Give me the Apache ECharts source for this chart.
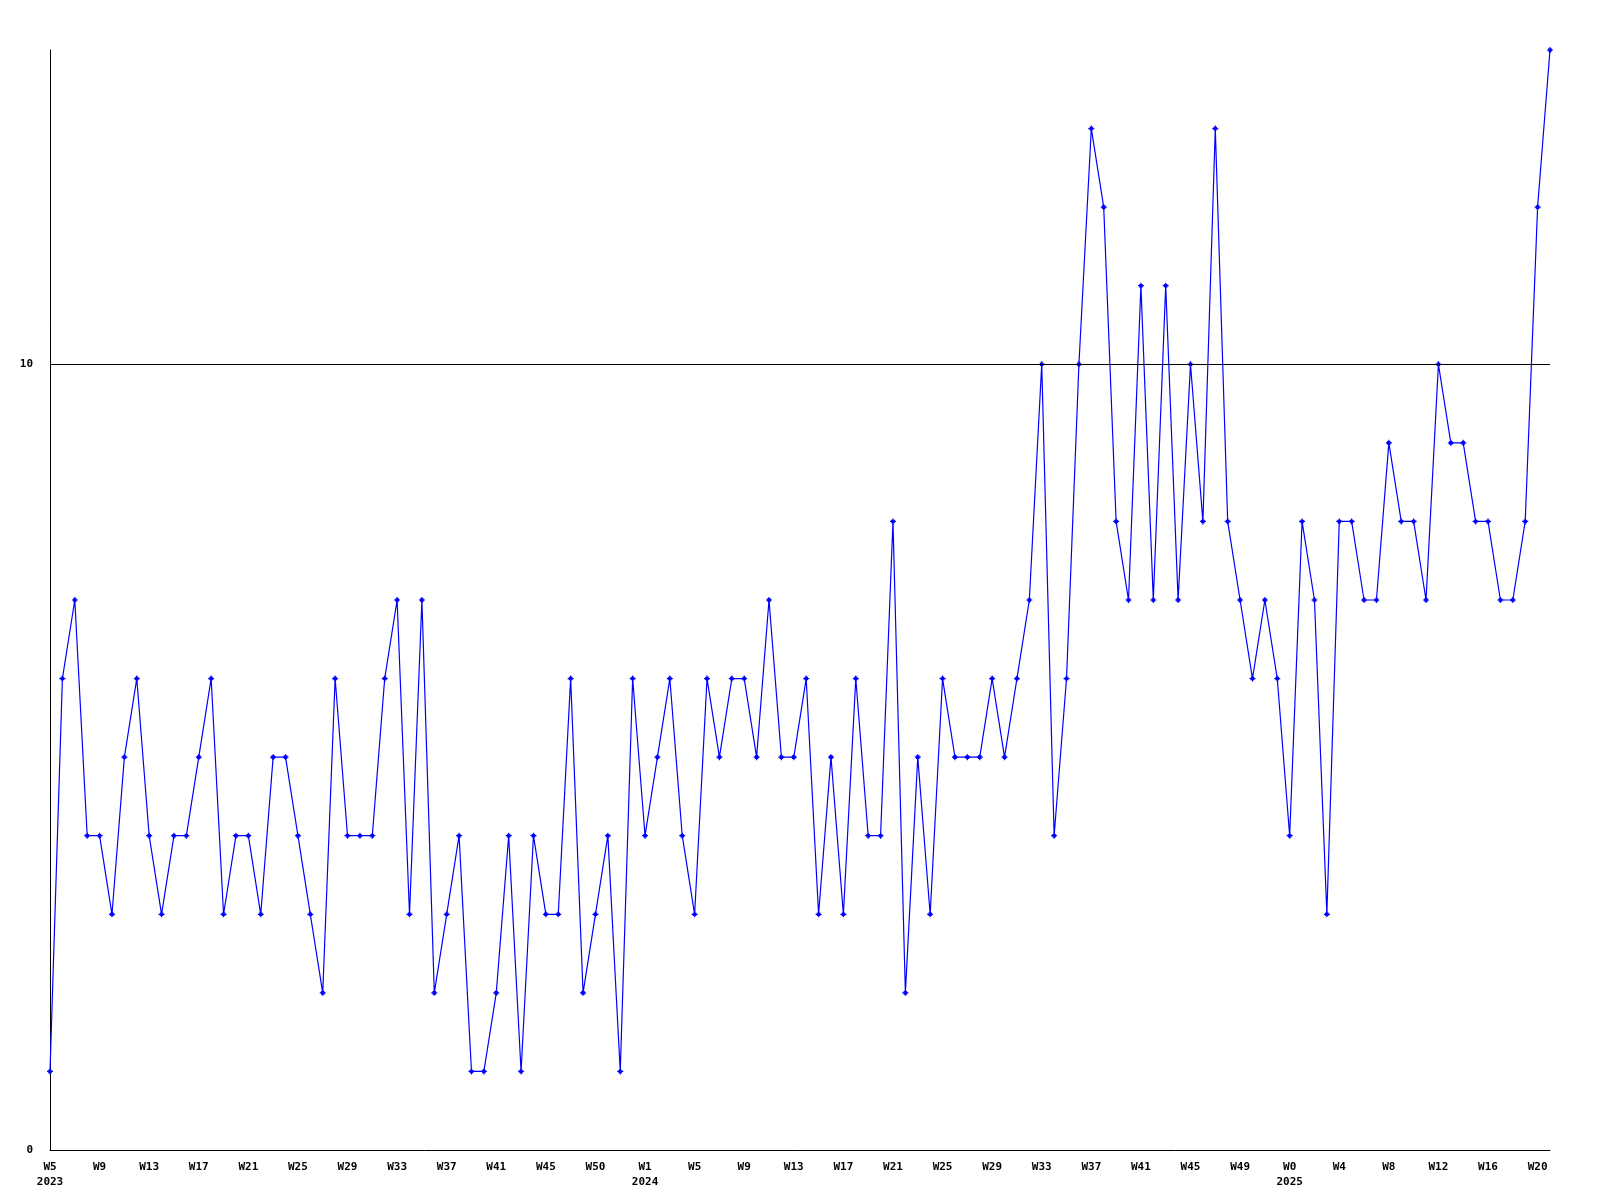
<!DOCTYPE html>
<html>
<head>
<meta charset="utf-8">
<script src="https://cdn.jsdelivr.net/npm/echarts@6/dist/echarts.min.js"></script>
<style>
html,body{margin:0;padding:0;background:#fff;}
#chart{width:1600px;height:1200px;}
</style>
</head>
<body>
<div id="chart"></div>
<script>
// Weekly values, 2023 W5 .. 2025 W21 (122 points)
const values = [1,6,7,4,4,3,5,6,4,3,4,4,5,6,3,4,4,3,5,5,4,3,2,6,4,4,4,6,7,3,7,2,3,4,1,1,2,4,1,4,3,3,6,2,3,4,1,6,4,5,6,4,3,6,5,6,6,5,7,5,5,6,3,5,3,6,4,4,8,2,5,3,6,5,5,5,6,5,6,7,10,4,6,10,13,12,8,7,11,7,11,7,10,8,13,8,7,6,7,6,4,8,7,3,8,8,7,7,9,8,8,7,10,9,9,8,8,7,7,8,12,14];
// Tick labels, one every 4th point
const tickLabels = ['W5','W9','W13','W17','W21','W25','W29','W33','W37','W41','W45','W50','W1','W5','W9','W13','W17','W21','W25','W29','W33','W37','W41','W45','W49','W0','W4','W8','W12','W16','W20'];
const tickYears = ['2023','','','','','','','','','','','','2024','','','','','','','','','','','','','2025','','','','',''];
const yLabels = [0, 10];
const refLine = 10;

const categories = values.map((v, i) => String(i));

const chart = echarts.init(document.getElementById('chart'), null, {renderer: 'canvas'});
const font = 'DejaVu Sans Mono';
chart.setOption({
  animation: false,
  backgroundColor: '#ffffff',
  grid: {left: 50, right: 50, top: 50, bottom: 50, containLabel: false},
  xAxis: {
    type: 'category',
    data: categories,
    boundaryGap: false,
    axisLine: {lineStyle: {color: '#000', width: 1}},
    axisTick: {show: false},
    splitLine: {show: false},
    axisLabel: {
      interval: 3,
      margin: 10,
      color: '#000',
      fontFamily: font,
      fontWeight: 'bold',
      fontSize: 11,
      lineHeight: 15,
      formatter: function (val, idx) {
        const k = Math.floor(idx / 4);
        const y = tickYears[k];
        return tickLabels[k] + (y ? '\n' + y : '');
      }
    }
  },
  yAxis: {
    type: 'value',
    min: 0,
    max: 14,
    interval: 10,
    axisLine: {show: true, lineStyle: {color: '#000', width: 1}},
    axisTick: {show: false},
    splitLine: {show: false},
    axisLabel: {
      margin: 17,
      color: '#000',
      fontFamily: font,
      fontWeight: 'bold',
      fontSize: 11,
      showMaxLabel: false,
      formatter: function (v) { return yLabels.indexOf(v) >= 0 ? String(v) : ''; }
    }
  },
  series: [{
    type: 'line',
    data: values,
    showAllSymbol: true,
    symbol: 'path://M2,0L3,0L3,1L4,1L4,2L5,2L5,3L4,3L4,4L3,4L3,5L2,5L2,4L1,4L1,3L0,3L0,2L1,2L1,1L2,1Z',
    symbolSize: 6,
    itemStyle: {color: '#0000ff'},
    lineStyle: {color: '#0000ff', width: 1.2},
    markLine: {
      silent: true,
      symbol: ['none', 'none'],
      label: {show: false},
      lineStyle: {color: '#000', width: 1, type: 'solid'},
      data: [{yAxis: refLine}]
    }
  }]
});
</script>
</body>
</html>
